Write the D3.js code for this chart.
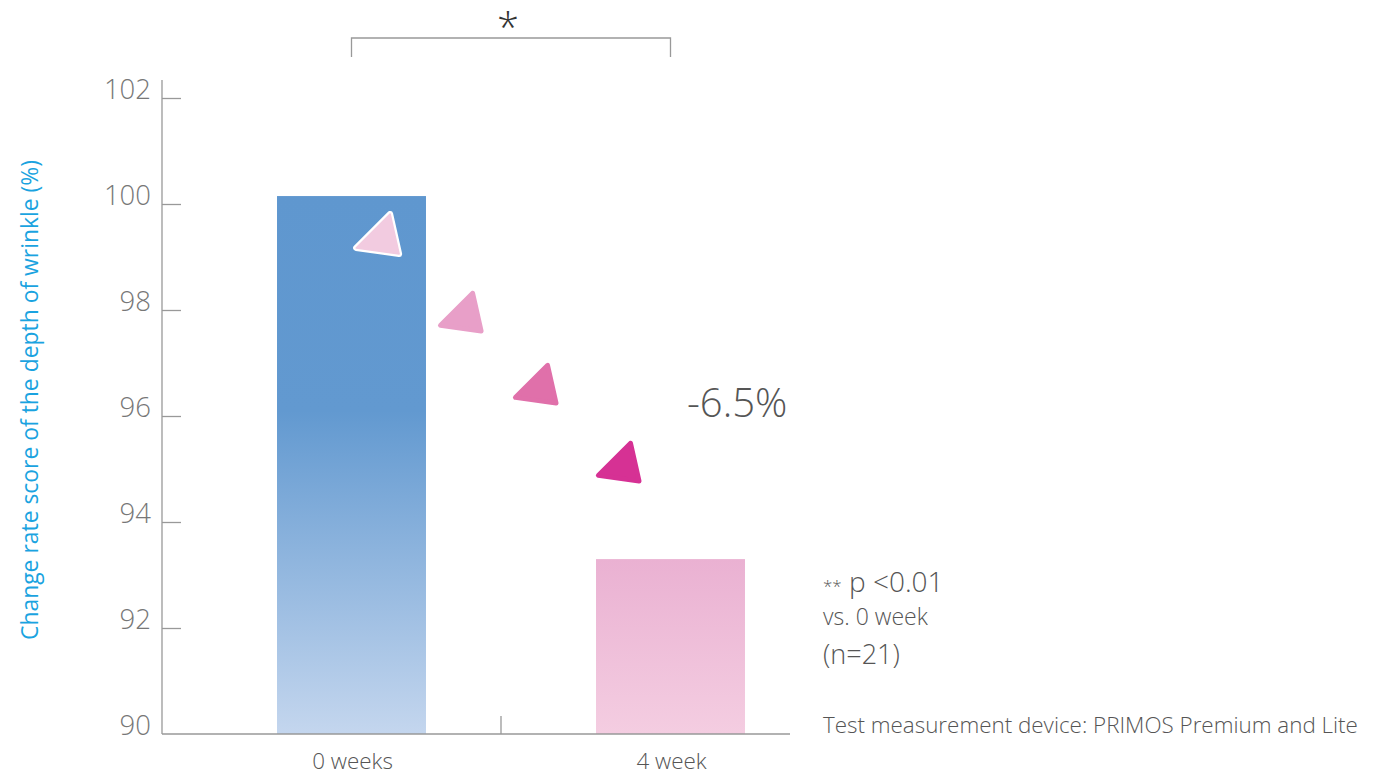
<!DOCTYPE html>
<html><head><meta charset="utf-8">
<script src="https://cdn.jsdelivr.net/npm/d3@7"></script>
<style>
html,body{margin:0;padding:0;background:#fff;}
svg{display:block;font-family:"Open Sans","DejaVu Sans",sans-serif;}
</style></head>
<body>
<svg id="chart" width="1378" height="775"></svg>
<script>
const categories = ["0 weeks", "4 week"];
const values = [100.15, 93.3];
const yTicks = [90, 92, 94, 96, 98, 100, 102];
const yTitle = "Change rate score of the depth of wrinkle (%)";
const changeLabel = "-6.5%";
const arrowT = [0.096, 0.356, 0.591, 0.851];
const arrowV = [99.34, 97.87, 96.51, 95.04];
const arrowColors = ["#f2cbe0", "#e89fc8", "#e070aa", "#d63194"];
const notes = ["vs. 0 week", "(n=21)"];
const deviceNote = "Test measurement device: PRIMOS Premium and Lite";

const svg = d3.select("#chart");
const defs = svg.append("defs");
const g1 = defs.append("linearGradient").attr("id","gBlue").attr("x1",0).attr("y1",0).attr("x2",0).attr("y2",1);
g1.append("stop").attr("offset","0%").attr("stop-color","#5f97cf");
g1.append("stop").attr("offset","40%").attr("stop-color","#6299d0");
g1.append("stop").attr("offset","100%").attr("stop-color","#c4d6ee");
const g2 = defs.append("linearGradient").attr("id","gPink").attr("x1",0).attr("y1",0).attr("x2",0).attr("y2",1);
g2.append("stop").attr("offset","0%").attr("stop-color","#eab1d2");
g2.append("stop").attr("offset","100%").attr("stop-color","#f4cde1");

const y = d3.scaleLinear().domain([90, 102]).range([734, 98]);
const x = d3.scaleBand().domain(categories).range([192, 830]).padding(0);
const barW = x.bandwidth() * 0.467;
const cx = c => x(c) + x.bandwidth() / 2;

// bars
svg.selectAll("rect.bar").data(values).join("rect")
  .attr("class","bar")
  .attr("x",(d,i)=>cx(categories[i]) - barW/2)
  .attr("width",barW)
  .attr("y",d=>y(d))
  .attr("height",d=>y(90)-y(d))
  .attr("fill",(d,i)=> i===0 ? "url(#gBlue)" : "url(#gPink)");

// y axis
const yAxis = d3.axisRight(y).tickValues(yTicks).tickSize(19).tickFormat("");
const ya = svg.append("g").attr("transform","translate(162,0)").call(yAxis);
ya.select(".domain").remove();
ya.selectAll(".tick line").attr("stroke","#999").attr("stroke-width",1.3)
  .filter(d=>d===90).remove();
svg.append("line").attr("x1",162).attr("x2",162).attr("y1",80).attr("y2",y(90))
  .attr("stroke","#999").attr("stroke-width",1.3);
svg.selectAll("text.ytick").data(yTicks).join("text")
  .attr("class","ytick")
  .attr("x",151).attr("y",d=>y(d)+1)
  .attr("text-anchor","end")
  .attr("font-size",27.5).attr("font-weight",300)
  .attr("fill","#777")
  .text(d=>d);

// x axis
svg.append("line").attr("x1",162).attr("x2",790).attr("y1",y(90)).attr("y2",y(90))
  .attr("stroke","#999").attr("stroke-width",1.3);
const midX = (cx(categories[0]) + cx(categories[1]))/2 - 10;
svg.append("line").attr("x1",midX).attr("x2",midX).attr("y1",y(90)).attr("y2",y(90)-18)
  .attr("stroke","#999").attr("stroke-width",1.3);
svg.selectAll("text.xlab").data(categories).join("text")
  .attr("class","xlab")
  .attr("x",d=>cx(d)+1).attr("y",769)
  .attr("text-anchor","middle")
  .attr("font-size",22.4).attr("font-weight",300)
  .attr("fill","#555")
  .text(d=>d);

// y title
svg.append("text")
  .attr("transform","translate(38,400) rotate(-90)")
  .attr("text-anchor","middle")
  .attr("font-size",22.9)
  .attr("fill","#1aa3e0")
  .text(yTitle);

// significance bracket
const bx0 = cx(categories[0]), bx1 = cx(categories[1]);
svg.append("path")
  .attr("d",`M${bx0},57 V38 H${bx1} V57`)
  .attr("fill","none").attr("stroke","#999").attr("stroke-width",1.3);
svg.append("text").attr("x",(bx0+bx1)/2-3).attr("y",42)
  .attr("text-anchor","middle").attr("font-size",40).attr("font-weight",300).attr("fill","#333")
  .text("*");

// arrows (rounded triangles)
const tri = [[8,-25],[-26,9],[17,15]];
const triPath = d3.line().curve(d3.curveLinearClosed)(tri);
svg.selectAll("path.arrow").data(arrowT).join("path")
  .attr("class","arrow")
  .attr("d",triPath)
  .attr("transform",(t,i)=>{
    const px = bx0 + t*(bx1-bx0);
    const s = i===0 ? 1.0 : 0.95;
    return `translate(${px},${y(arrowV[i])}) scale(${s})`;
  })
  .attr("fill",(d,i)=>arrowColors[i])
  .attr("stroke",(d,i)=> i===0 ? "#fff" : arrowColors[i])
  .attr("stroke-width",(d,i)=> i===0 ? 6 : 5)
  .attr("stroke-linejoin","round");
svg.select("path.arrow").clone(true).attr("stroke",arrowColors[0]).attr("stroke-width",1.5);

// change label
svg.append("text").attr("x",687).attr("y",417)
  .attr("font-size",40).attr("font-weight",300).attr("fill","#555")
  .text(changeLabel);

// notes
const nt = svg.append("text").attr("x",823).attr("y",592).attr("fill","#555").attr("font-weight",300);
nt.append("tspan").attr("font-size",17).text("**");
nt.append("tspan").attr("font-size",28).text(" p <0.01");
svg.append("text").attr("x",823).attr("y",625).attr("font-size",23).attr("font-weight",300)
  .attr("fill","#555").text(notes[0]);
svg.append("text").attr("x",823).attr("y",664).attr("font-size",27).attr("font-weight",300)
  .attr("fill","#555").text(notes[1]);
svg.append("text").attr("x",823).attr("y",733).attr("font-size",22.4).attr("font-weight",300)
  .attr("fill","#555").text(deviceNote);
</script>
</body></html>
